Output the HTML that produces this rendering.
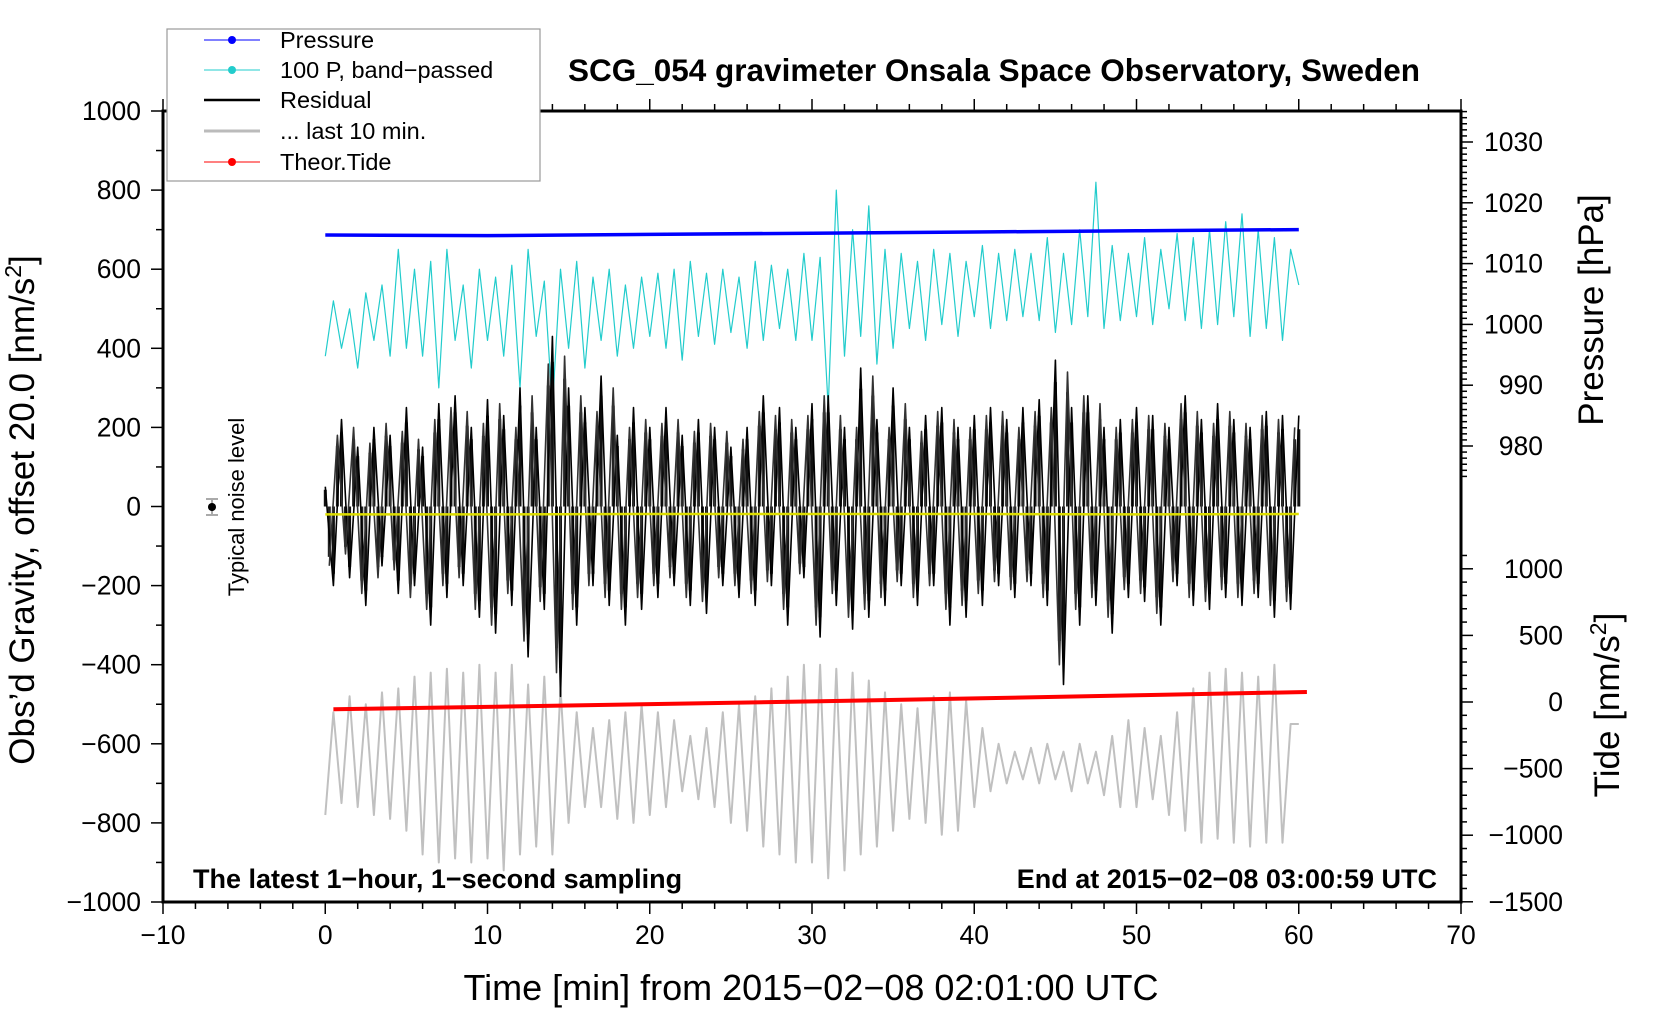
<!DOCTYPE html>
<html><head><meta charset="utf-8">
<style>
html,body{margin:0;padding:0;background:#fff;overflow:hidden;width:1660px;height:1020px;}
svg{display:block;font-family:"Liberation Sans",sans-serif;}
</style></head>
<body>
<div style="position:relative;width:1660px;height:1020px;">
<svg id="chart" width="1660" height="1020" viewBox="0 0 1660 1020" xmlns="http://www.w3.org/2000/svg" style="position:absolute;left:0;top:0"></svg>
<svg width="1660" height="1020" style="position:absolute;left:0;top:0;font-family:'Liberation Sans',sans-serif">
 <text x="994" y="81" font-size="31.5" font-weight="bold" text-anchor="middle">SCG_054 gravimeter Onsala Space Observatory, Sweden</text>
 <text transform="translate(34,510) rotate(-90)" font-size="35" text-anchor="middle">Obs’d Gravity, offset 20.0 [nm/s<tspan font-size="23" dy="-13">2</tspan><tspan dy="13">]</tspan></text>
 <text transform="translate(1603,310) rotate(-90)" font-size="35" text-anchor="middle">Pressure [hPa]</text>
 <text transform="translate(1619,705) rotate(-90)" font-size="35" text-anchor="middle">Tide [nm/s<tspan font-size="23" dy="-13">2</tspan><tspan dy="13">]</tspan></text>
 <text x="811" y="1000" font-size="36" text-anchor="middle">Time [min] from 2015−02−08 02:01:00 UTC</text>
 <text x="193" y="888" font-size="27" font-weight="bold">The latest 1−hour, 1−second sampling</text>
 <text x="1437" y="888" font-size="27" font-weight="bold" text-anchor="end">End at 2015−02−08 03:00:59 UTC</text>
 <g>
  <line x1="212" x2="212" y1="499" y2="515" stroke="#aaa" stroke-width="2"/>
  <line x1="206" x2="218" y1="499" y2="499" stroke="#aaa" stroke-width="2"/>
  <line x1="206" x2="218" y1="515" y2="515" stroke="#aaa" stroke-width="2"/>
  <circle cx="212" cy="507" r="4" fill="#000"/>
 </g>
 <text transform="translate(244,507) rotate(-90)" font-size="22" text-anchor="middle">Typical noise level</text>
 <g>
  <rect x="167" y="29" width="373" height="152" fill="#fff" stroke="#999" stroke-width="1.2"/>
  <g>
   <line x1="204" x2="260" y1="40" y2="40" stroke="#0000ff" stroke-width="1"/><circle cx="232" cy="40" r="4" fill="#0000ff"/>
   <text x="280" y="48" font-size="23.5">Pressure</text></g>
  <g>
   <line x1="204" x2="260" y1="70" y2="70" stroke="#22cccc" stroke-width="1"/><circle cx="232" cy="70" r="4" fill="#22cccc"/>
   <text x="280" y="78" font-size="23.5">100 P, band−passed</text></g>
  <g>
   <line x1="204" x2="260" y1="100" y2="100" stroke="#000" stroke-width="2.5"/>
   <text x="280" y="108" font-size="23.5">Residual</text></g>
  <g>
   <line x1="204" x2="260" y1="131" y2="131" stroke="#bbb" stroke-width="3"/>
   <text x="280" y="139" font-size="23.5">... last 10 min.</text></g>
  <g>
   <line x1="204" x2="260" y1="162" y2="162" stroke="#ff0000" stroke-width="1"/><circle cx="232" cy="162" r="4" fill="#ff0000"/>
   <text x="280" y="170" font-size="23.5">Theor.Tide</text></g>
 </g>
</svg>
</div>
<script>
// ---- data ----
const residualStart = 0, residualStep = 0.5;
const residualValues = [50,-200,220,-180,150,-250,200,-150,180,-220,
250,-200,150,-300,260,-230,280,-200,200,-280,
270,-320,230,-250,300,-380,200,-260,430,-480,
300,-300,250,-200,330,-250,180,-300,250,-260,
200,-230,250,-200,180,-250,220,-270,200,-200,
150,-230,200,-250,280,-200,250,-300,200,-180,
260,-330,280,-250,200,-310,350,-280,220,-250,
300,-200,200,-250,230,-200,250,-300,200,-280,
230,-250,250,-200,220,-230,250,-200,270,-250,
370,-450,250,-300,280,-250,200,-320,220,-230,
250,-240,230,-300,200,-200,280,-250,220,-260,
260,-230,220,-250,200,-230,240,-280,230,-260,
230];
const residualValues2 = [-150,180,-120,200,-220,160,-180,210,-160,190,
-230,170,-260,220,-200,250,-180,240,-260,210,
-300,260,-220,200,-340,280,-240,360,-420,380,
-260,280,-200,240,-230,300,-260,200,-230,220,
-200,210,-180,220,-230,190,-240,210,-180,190,
-200,170,-220,240,-190,230,-260,220,-170,230,
-300,280,-220,230,-280,200,-260,330,-230,200,
-190,260,-230,190,-200,240,-260,220,-250,200,
-220,230,-190,240,-210,200,-190,240,-230,250,
-400,340,-260,280,-230,260,-280,200,-210,220,
-220,230,-270,210,-190,260,-230,240,-240,210,
-210,240,-230,210,-220,230,-250,220,-240,200,
-200];
const grayValues = [-780,-520,-750,-480,-760,-500,-780,-470,-790,-460,
-820,-430,-880,-420,-900,-410,-890,-420,-900,-400,
-890,-420,-920,-400,-880,-450,-860,-430,-880,-460,
-800,-520,-760,-560,-760,-540,-790,-520,-800,-500,
-780,-520,-760,-540,-720,-580,-740,-560,-760,-520,
-800,-500,-820,-480,-860,-460,-880,-430,-900,-400,
-900,-400,-940,-410,-920,-420,-880,-440,-860,-470,
-820,-500,-790,-510,-800,-480,-830,-470,-820,-490,
-760,-560,-720,-600,-700,-620,-690,-610,-700,-600,
-690,-620,-720,-600,-700,-620,-730,-580,-760,-540,
-760,-560,-740,-580,-780,-520,-820,-460,-850,-420,
-840,-410,-850,-420,-860,-430,-850,-400,-850,-550,
-550];
const cyanValues = [380,520,400,500,350,540,420,560,380,650,
400,600,380,620,300,650,420,560,350,600,
420,580,380,610,300,650,430,570,250,600,
400,620,350,580,420,600,380,560,400,580,
430,590,400,600,370,620,430,590,410,600,
440,580,400,620,420,610,450,600,420,640,
420,630,250,800,380,700,430,760,360,650,
400,640,450,620,420,650,460,640,430,620,
480,660,450,640,470,650,480,640,470,680,
440,640,460,700,480,820,450,660,470,640,
480,680,460,650,500,690,470,680,450,700,
460,720,480,740,430,700,450,680,420,650,
560];
const pressureTimes = [0,10,20,30,40,50,60];
const pressureValues = [1014.7,1014.6,1014.8,1015.0,1015.2,1015.4,1015.6];
const tideTimes = [0.5,10.5,20.5,30.5,40.5,50.5,60.5];
const tideValues = [-55,-35,-15,5,28,52,75];
const yellowTimes = [0,10,20,30,40,50,60];
const yellowValues = [-20,-20,-19,-19,-19,-20,-19];
const xTicks = [-10,0,10,20,30,40,50,60,70];
const yTicks = [1000,800,600,400,200,0,-200,-400,-600,-800,-1000];
const pTicks = [1030,1020,1010,1000,990,980];
const tTicks = [1000,500,0,-500,-1000,-1500];

// ---- axes ----
const L=163,R=1461,T=111,B=902;
const X=t=>L+(t+10)*(R-L)/80;
const Y=v=>T+(1000-v)*(B-T)/2000;
const YP=p=>142+(1030-p)*6.08;
const YT=v=>702-v*0.1332;
const NS="http://www.w3.org/2000/svg";
const svg=document.getElementById('chart');
function el(tag,attrs,parent){const e=document.createElementNS(NS,tag);for(const k in attrs)e.setAttribute(k,attrs[k]);(parent||svg).appendChild(e);return e;}
function txt(s,attrs){const e=el('text',attrs);e.textContent=s;return e;}

function poly(ts,vs,yf,color,w,name){
  let d='';for(let i=0;i<vs.length;i++){d+=(i?'L':'M')+X(ts[i]).toFixed(1)+','+yf(vs[i]).toFixed(1);}
  const p=el('path',{d:d,fill:'none',stroke:color,'stroke-width':w,'stroke-linejoin':'round'});
  
  
  return p;
}
function stems(ts,vs,color,w,name){
  let d='';for(let i=0;i<vs.length;i++){d+='M'+X(ts[i]).toFixed(1)+','+Y(0).toFixed(1)+'L'+X(ts[i]).toFixed(1)+','+Y(vs[i]*0.85).toFixed(1);}
  const p=el('path',{d:d,fill:'none',stroke:color,'stroke-width':w});
  
  
}
const tArr=residualValues.map((v,i)=>residualStart+i*residualStep);
const tArr2=residualValues2.map((v,i)=>residualStart+0.25+i*residualStep);
const n2=residualValues2.length-1;
poly(tArr,grayValues,Y,'#c0c0c0',2,'last-10-min-series');
poly(tArr,cyanValues,Y,'#22cccc',1.2,'band-passed-pressure-series');
stems(tArr,residualValues,'#111',3,'residual-stems');
stems(tArr2.slice(0,n2),residualValues2.slice(0,n2),'#222',3,'residual-stems-b');
poly(tArr,residualValues,Y,'#000',1.6,'residual-series');
poly(tArr2.slice(0,n2),residualValues2.slice(0,n2),Y,'#333',1.6,'residual-series-b');
poly(yellowTimes,yellowValues,Y,'#dddd00',2.5,'yellow-baseline-series');
poly(pressureTimes,pressureValues,YP,'#0000ff',3.5,'pressure-series');
poly(tideTimes,tideValues,YT,'#ff0000',4,'theoretical-tide-series');

const fr=el('rect',{x:L,y:T,width:R-L,height:B-T,fill:'none',stroke:'#000','stroke-width':3});



for(let t=-10;t<=70;t+=2){const major=(t%10===0);
  el('line',{x1:X(t),x2:X(t),y1:B,y2:B+(major?12:7),stroke:'#000','stroke-width':1.5});
  el('line',{x1:X(t),x2:X(t),y1:T,y2:T-(major?12:7),stroke:'#000','stroke-width':1.5});}
xTicks.forEach(t=>{const e=txt((t<0?'\u2212':'')+Math.abs(t),{x:X(t),y:B+42,'font-size':26.5,'text-anchor':'middle'});
  });
for(let v=-1000;v<=1000;v+=100){const major=(v%200===0);
  el('line',{x1:L,x2:L-(major?12:7),y1:Y(v),y2:Y(v),stroke:'#000','stroke-width':1.5});}
yTicks.forEach(v=>{const e=txt((v<0?'\u2212':'')+Math.abs(v),{x:L-22,y:Y(v)+9,'font-size':26.5,'text-anchor':'end'});
  });
for(let p=1035;p>=975;p--){const major=(p%10===0);
  const y=YP(p); if(y<T||y>540)continue;
  el('line',{x1:R,x2:R+(major?12:6),y1:y,y2:y,stroke:'#000','stroke-width':1.5});}
pTicks.forEach(p=>{const e=txt(String(p),{x:R+82,y:YP(p)+9,'font-size':26.5,'text-anchor':'end'});
  });
for(let v=-1500;v<=1100;v+=100){const major=(v%500===0);const y=YT(v);if(y<555||y>B+1)continue;
  el('line',{x1:R,x2:R+(major?12:6),y1:y,y2:y,stroke:'#000','stroke-width':1.5});}
tTicks.forEach(v=>{const e=txt((v<0?'\u2212':'')+Math.abs(v),{x:R+102,y:YT(v)+9,'font-size':26.5,'text-anchor':'end'});
  });
</script>
</body></html>
